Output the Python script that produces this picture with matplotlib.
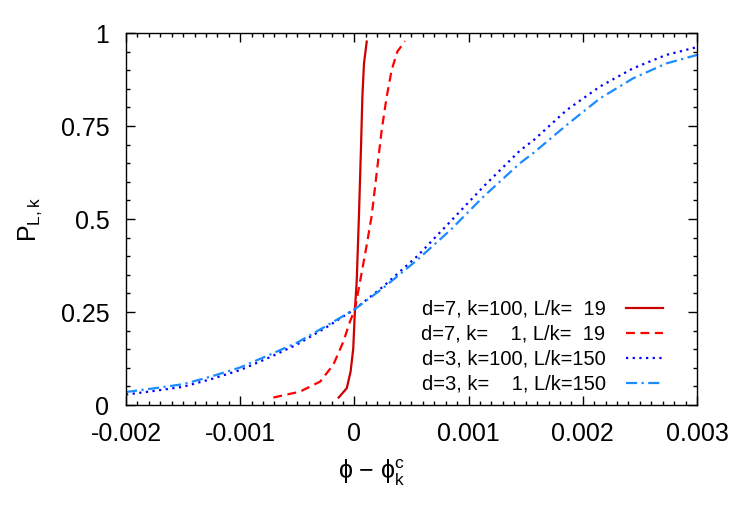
import matplotlib
matplotlib.use('Agg')
from matplotlib import pyplot as plt
from matplotlib.ticker import MultipleLocator, FuncFormatter

plt.rcParams['font.family'] = ['Liberation Sans', 'DejaVu Sans']
plt.rcParams['mathtext.fontset'] = 'custom'
plt.rcParams['mathtext.rm'] = 'Liberation Sans'
plt.rcParams['mathtext.it'] = 'Liberation Sans:italic'
plt.rcParams['mathtext.default'] = 'regular'
plt.rcParams['axes.unicode_minus'] = False

# d=7, k=100, L/k=19
x_d7_k100 = [-0.000138, -0.000067, -0.000033, -0.00001, 0.000005, 0.00002,
             0.00004, 0.000058, 0.00007, 0.000084, 0.000108]
p_d7_k100 = [0.02, 0.045, 0.09, 0.152, 0.258, 0.331, 0.51, 0.694, 0.829, 0.918, 0.977]

# d=7, k=1, L/k=19
x_d7_k1 = [-0.00071, -0.000476, -0.0003, -0.000185, -0.000097, -0.000039, 0.000005,
           0.000049, 0.000105, 0.000152, 0.000195, 0.000239, 0.000283, 0.000326,
           0.000376, 0.000443]
p_d7_k1 = [0.02, 0.036, 0.063, 0.108, 0.17, 0.224, 0.258, 0.331, 0.425, 0.51,
           0.623, 0.739, 0.829, 0.90, 0.95, 0.978]

# d=3, L/k=150
x_d3 = [-0.002, -0.00175, -0.0015, -0.00125, -0.001, -0.00075, -0.0005, -0.00025,
        0.000005, 0.00025, 0.00055, 0.00084, 0.00113, 0.00145, 0.00157, 0.00186,
        0.00215, 0.00244, 0.00273, 0.003]
p_d3_k100 = [0.028, 0.038, 0.049, 0.07, 0.094, 0.127, 0.163, 0.208, 0.258, 0.318,
             0.40, 0.493, 0.587, 0.684, 0.712, 0.793, 0.856, 0.905, 0.941, 0.962]
p_d3_k1 = [0.035, 0.045, 0.056, 0.077, 0.101, 0.134, 0.168, 0.212, 0.258, 0.314,
           0.39, 0.47, 0.56, 0.65, 0.678, 0.753, 0.824, 0.878, 0.918, 0.941]

labels = ['d=7, k=100, L/k=\u200719',
          'd=7, k=\u2007\u20071, L/k=\u200719',
          'd=3, k=100, L/k=150',
          'd=3, k=\u2007\u20071, L/k=150']

fig = plt.figure(figsize=(7.47, 5.23), dpi=100)
ax = fig.add_axes([0.1687, 0.2256, 0.7643, 0.7113])

ax.plot(x_d7_k100, p_d7_k100, color='#cc0000', lw=1.6, label=labels[0])
ax.plot(x_d7_k1, p_d7_k1, color='#ff0000', lw=1.6, dashes=(4, 2.5), label=labels[1])
ax.plot(x_d3, p_d3_k100, color='#0000ff', lw=1.6, dashes=(1, 2), label=labels[2])
ax.plot(x_d3, p_d3_k1, color='#1a8cff', lw=1.6, dashes=(5, 2, 1, 2), label=labels[3])

ax.set_xlim(-0.002, 0.003)
ax.set_ylim(0, 1)
ax.xaxis.set_major_locator(MultipleLocator(0.001))
ax.xaxis.set_minor_locator(MultipleLocator(0.0001))
ax.yaxis.set_major_locator(MultipleLocator(0.25))
ax.yaxis.set_minor_locator(MultipleLocator(0.05))
ax.xaxis.set_major_formatter(FuncFormatter(lambda v, p: '%g' % round(v, 6)))
ax.yaxis.set_major_formatter(FuncFormatter(lambda v, p: '%g' % round(v, 6)))

ax.tick_params(which='both', direction='in', top=True, right=True, width=1)
ax.tick_params(which='major', length=6.5, labelsize=18)
ax.tick_params(which='minor', length=3.2)
ax.tick_params(axis='x', pad=12)
ax.tick_params(axis='y', pad=12)
for s in ax.spines.values():
    s.set_linewidth(1)

ax.set_xlabel('ϕ − $\\mathregular{ϕ_k^c}$', fontsize=18)
ax.xaxis.set_label_coords(0.43, -0.14)
ax.set_ylabel('$\\mathregular{P_{L,k}}$', fontsize=18)
ax.yaxis.set_label_coords(-0.144, 0.5)

ax.legend(loc='lower right', bbox_to_anchor=(0.9405, 0.0296), frameon=False,
          markerfirst=False, fontsize=14.5, handlelength=1.85, handletextpad=1.0,
          labelspacing=0.3, borderpad=0, borderaxespad=0)

fig.savefig('out.png', dpi=100)
